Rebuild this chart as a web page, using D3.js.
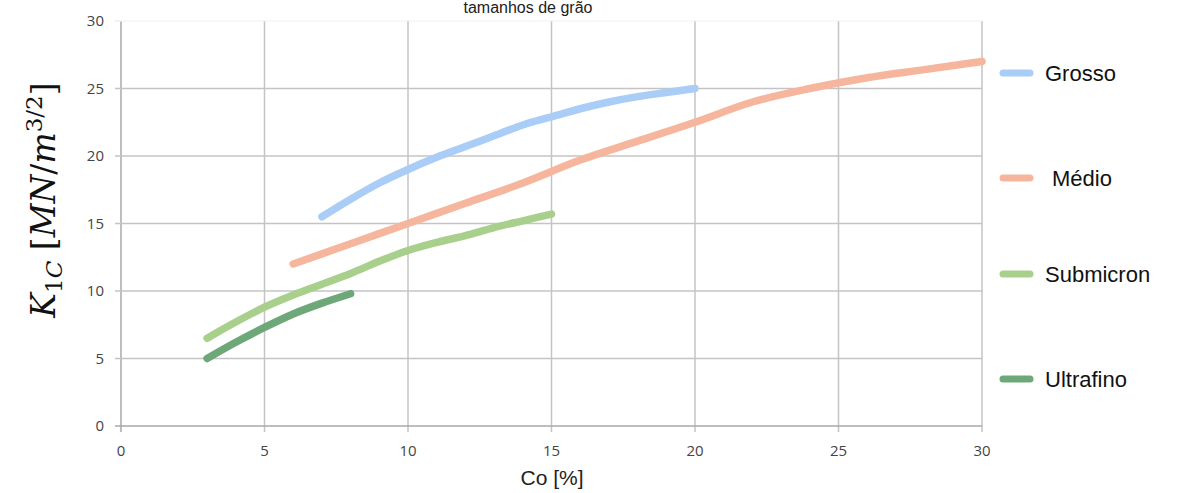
<!DOCTYPE html>
<html>
<head>
<meta charset="utf-8">
<script src="https://cdn.jsdelivr.net/npm/d3@7"></script>
<style>
  body { margin: 0; background: #fff; }
  svg { display: block; }
  .tick-label { font-family: "Open Sans", "Liberation Sans", sans-serif; font-size: 15px; fill: #444; }
  .legend-text { font-family: "Liberation Sans", Arial, sans-serif; font-size: 22px; fill: #111; }
</style>
</head>
<body>
<div id="chart"></div>
<script>
// séries (Co % , K1C)
var seriesNames = ["Grosso", "Médio", "Submicron", "Ultrafino"];
var seriesColors = ["#a9cdf6", "#f6b59d", "#a8cf8c", "#6ea878"];
var grossoX = [7, 8, 9, 10, 11, 12, 13, 14, 15, 16, 17, 18, 19, 20];
var grossoY = [15.5, 16.8, 18, 19, 19.9, 20.7, 21.5, 22.3, 22.9, 23.5, 24, 24.4, 24.7, 25];
var medioX = [6, 8, 10, 12, 14, 16, 18, 20, 22, 24, 26, 28, 30];
var medioY = [12, 13.5, 15, 16.5, 18, 19.7, 21.1, 22.5, 24, 25, 25.8, 26.4, 27];
var submicronX = [3, 4, 5, 6, 7, 8, 9, 10, 11, 12, 13, 14, 15];
var submicronY = [6.5, 7.7, 8.8, 9.7, 10.5, 11.3, 12.2, 13, 13.6, 14.1, 14.7, 15.2, 15.7];
var ultrafinoX = [3, 4, 5, 6, 7, 8];
var ultrafinoY = [5, 6.2, 7.3, 8.3, 9.1, 9.8];
var xTicks = [0, 5, 10, 15, 20, 25, 30];
var yTicks = [0, 5, 10, 15, 20, 25, 30];

var Chart = {
  width: 1195,
  height: 493,
  left: 121, // início da área de dados
  right: 982,
  top: 21,
  bottom: 426,

  draw: function(){
    var svg = d3.select("#chart").append("svg")
      .attr("width", Chart.width)
      .attr("height", Chart.height);

    var x = d3.scaleLinear().domain([0, 30]).range([Chart.left, Chart.right]);
    var y = d3.scaleLinear().domain([0, 30]).range([Chart.bottom, Chart.top]);

    this.drawGrid(svg, x, y);
    this.drawLines(svg, x, y);
    this.drawLegend(svg);
    this.drawLabels(svg);
  },

  drawGrid: function(svg, x, y){
    var g = svg.append("g").attr("class", "grid");
    // linhas verticais
    xTicks.forEach(function(t){
      g.append("line")
        .attr("x1", x(t)).attr("x2", x(t))
        .attr("y1", y(30)).attr("y2", y(0) + 6)
        .style("stroke", t === 0 ? "#a8a8a8" : "#c4c4c4")
        .style("stroke-width", 1.5);
    });
    // linhas horizontais
    yTicks.forEach(function(t){
      g.append("line")
        .attr("x1", x(0) - 6).attr("x2", t === 30 ? x(0) : x(30))
        .attr("y1", y(t)).attr("y2", y(t))
        .style("stroke", t === 0 ? "#a8a8a8" : (t === 30 ? "#eeeeee" : "#c4c4c4"))
        .style("stroke-width", 1.5);
    });
    g.append("line")
      .attr("x1", x(0)).attr("x2", x(30))
      .attr("y1", y(30)).attr("y2", y(30))
      .style("stroke", "#f0f0f0").style("stroke-width", 1);

    g.selectAll("text.ytick").data(yTicks).enter().append("text")
      .attr("class", "tick-label")
      .attr("x", x(0) - 17)
      .attr("y", function(d){ return y(d); })
      .attr("dy", ".36em")
      .attr("text-anchor", "end")
      .text(function(d){ return d; });

    g.selectAll("text.xtick").data(xTicks).enter().append("text")
      .attr("class", "tick-label")
      .attr("x", function(d){ return x(d); })
      .attr("y", y(0) + 25)
      .attr("dy", ".36em")
      .attr("text-anchor", "middle")
      .text(function(d){ return d; });
  },

  drawLines: function(svg, x, y){
    var data = [
      d3.zip(grossoX, grossoY),
      d3.zip(medioX, medioY),
      d3.zip(submicronX, submicronY),
      d3.zip(ultrafinoX, ultrafinoY)
    ];
    var line = d3.line()
      .x(function(d){ return x(d[0]); })
      .y(function(d){ return y(d[1]); })
      .curve(d3.curveMonotoneX);

    // desenha de trás para frente
    for(var i = data.length - 1; i >= 0; i--){
      svg.append("path")
        .attr("d", line(data[i]))
        .style("fill", "none")
        .style("stroke", seriesColors[i])
        .style("stroke-width", 7.5)
        .style("stroke-linecap", "round")
        .style("stroke-linejoin", "round");
    }
  },

  drawLegend: function(svg){
    var ys = [73, 178, 274, 379];
    var g = svg.append("g").attr("class", "legend");
    for(var i = 0; i < seriesNames.length; i++){
      g.append("line")
        .attr("x1", 1003).attr("x2", 1030)
        .attr("y1", ys[i]).attr("y2", ys[i])
        .style("stroke", seriesColors[i])
        .style("stroke-width", 7)
        .style("stroke-linecap", "round");
      g.append("text")
        .attr("class", "legend-text")
        .attr("x", i === 1 ? 1052 : 1045)
        .attr("y", ys[i])
        .attr("dy", ".36em")
        .text(seriesNames[i]);
    }
  },

  drawLabels: function(svg){
    // título (no original aparece cortado no topo)
    svg.append("text")
      .attr("x", 528)
      .attr("y", 13)
      .attr("text-anchor", "middle")
      .style("font-family", "Liberation Sans, Arial, sans-serif")
      .style("font-size", "16px")
      .style("fill", "#222")
      .text("tamanhos de grão");

    svg.append("text")
      .attr("x", 552)
      .attr("y", 485)
      .attr("text-anchor", "middle")
      .style("font-family", "Liberation Sans, Arial, sans-serif")
      .style("font-size", "21px")
      .style("fill", "#222")
      .text("Co [%]");

    var yl = svg.append("text")
      .attr("transform", "translate(55,200) rotate(-90)")
      .attr("text-anchor", "middle")
      .style("font-family", "DejaVu Serif, Liberation Serif, serif")
      .style("font-size", "33px")
      .style("fill", "#111");
    yl.append("tspan").style("font-style", "italic").text("K");
    yl.append("tspan").attr("dy", 7).style("font-size", "23px").text("1");
    yl.append("tspan").style("font-size", "23px").style("font-style", "italic").text("C");
    yl.append("tspan").attr("dy", -7).text(" [");
    yl.append("tspan").style("font-style", "italic").text("MN");
    yl.append("tspan").text("/");
    yl.append("tspan").style("font-style", "italic").text("m");
    yl.append("tspan").attr("dy", -13).style("font-size", "23px").text("3/2");
    yl.append("tspan").attr("dy", 13).text("]");
  }
};

Chart.draw();
</script>
</body>
</html>
